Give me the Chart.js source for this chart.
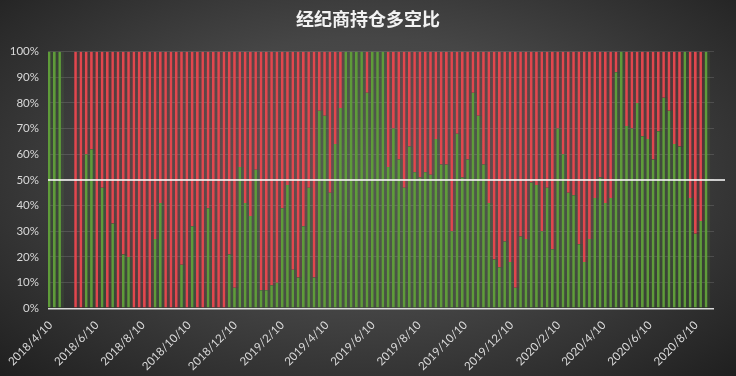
<!DOCTYPE html>
<html>
<head>
<meta charset="utf-8">
<script src="https://cdn.jsdelivr.net/npm/chart.js"></script>
<style>
  html, body { margin: 0; padding: 0; }
  body {
    width: 736px; height: 376px; overflow: hidden;
    background: radial-gradient(ellipse at 50% 45%, #545454 0%, #464646 45%, #2a2a2a 85%, #1f1f1f 100%);
  }
  #wrap { width: 736px; height: 376px; position: relative; }
</style>
</head>
<body>
<div id="wrap"><canvas id="c" width="736" height="376"></canvas></div>
<script>
// ---- data ----
const firstWeek = "2018/4/10";   // 每周数据起始日期
// 多头占比 (%)，null = 无数据
const longRatio = [
  100, 100, 100, null, null, 0, 0, 60, 62, 0,
  47, 0, 33, 0, 21, 20, 0, 0, 0, 0,
  27, 41, 0, 0, 0, 17, 0, 32, 0, 0,
  39, 0, 0, 0, 21, 8, 55, 41, 36, 54,
  7, 7, 9, 10, 39, 48, 15, 12, 32, 47,
  12, 77, 75, 45, 64, 78, 100, 100, 100, 100,
  84, 100, 100, 100, 55, 70, 58, 47, 63, 53,
  51, 53, 52, 66, 56, 56, 30, 68, 51, 58,
  84, 75, 56, 41, 19, 16, 26, 18, 8, 28,
  27, 49, 48, 30, 47, 23, 70, 60, 45, 44,
  25, 18, 27, 43, 51, 41, 43, 92, 100, 71,
  70, 80, 67, 66, 58, 69, 82, 77, 64, 63,
  100, 43, 29, 34, 100
];
// 空头占比 = 100 - 多头
const shortRatio = longRatio.map(v => v == null ? null : 100 - v);

const tickLabels = [
  "2018/4/10", "2018/6/10", "2018/8/10", "2018/10/10", "2018/12/10",
  "2019/2/10", "2019/4/10", "2019/6/10", "2019/8/10", "2019/10/10", "2019/12/10",
  "2020/2/10", "2020/4/10", "2020/6/10", "2020/8/10"
];
const yTicks = [0, 10, 20, 30, 40, 50, 60, 70, 80, 90, 100];
const midLine = 50;

// ---- helpers ----
function dayNum(s) {
  const [y, m, d] = s.split("/").map(Number);
  return Date.UTC(y, m - 1, d) / 86400000;
}
const d0 = dayNum(firstWeek);
const weekDays = longRatio.map((_, i) => d0 + 7 * i);
const tickDays = tickLabels.map(dayNum);

const green = "#5f9c3a", greenDim = "rgba(95,156,58,0.13)";
const red = "#e2474e", redDim = "rgba(226,71,78,0.13)";
const txt = "#d9d9d9";

// 50% 参考线 (略超出绘图区右边)
const midLinePlugin = {
  id: "midLine",
  afterDatasetsDraw(chart) {
    const { ctx, chartArea } = chart;
    const y = chart.scales.y.getPixelForValue(midLine);
    ctx.save();
    ctx.strokeStyle = "#ffffff";
    ctx.lineWidth = 1.5;
    ctx.beginPath();
    ctx.moveTo(chartArea.left, y);
    ctx.lineTo(chartArea.right + 11, y);
    ctx.stroke();
    ctx.restore();
  }
};

new Chart(document.getElementById("c"), {
  type: "bar",
  data: {
    datasets: [
      {
        label: "多",
        data: longRatio.map((v, i) => ({ x: weekDays[i], y: v })),
        backgroundColor: greenDim,
        borderColor: green,
        borderWidth: { left: 2, right: 0, top: 0, bottom: 0 },
        borderSkipped: false,
        categoryPercentage: 1,
        barPercentage: 1,
      },
      {
        label: "空",
        data: shortRatio.map((v, i) => ({ x: weekDays[i], y: v })),
        backgroundColor: redDim,
        borderColor: red,
        borderWidth: { left: 2, right: 0, top: 0, bottom: 0 },
        borderSkipped: false,
        categoryPercentage: 1,
        barPercentage: 1,
      },
    ],
  },
  options: {
    responsive: false,
    animation: false,
    layout: { padding: 0 },
    plugins: {
      legend: { display: false },
      tooltip: { enabled: false },
      title: {
        display: true,
        text: "经纪商持仓多空比",
        color: "#f2f2f2",
        font: { family: "'Noto Sans CJK SC'", size: 18, weight: "bold" },
        padding: { top: 8, bottom: 22 },
      },
    },
    scales: {
      x: {
        type: "linear",
        stacked: true,
        offset: false,
        min: d0 - 3.5,
        max: d0 + 876.5,
        grid: { display: false, offset: false },
        border: { display: false },
        afterBuildTicks: (s) => { s.ticks = tickDays.map(v => ({ value: v })); },
        afterFit: (s) => { s.height = 67.7; s.paddingLeft = 0; s.paddingRight = 22; },
        ticks: {
          autoSkip: false,
          minRotation: 45,
          maxRotation: 45,
          padding: 2,
          color: txt,
          font: { family: "Lato", size: 11.5 },
          callback: (v) => tickLabels[tickDays.indexOf(v)] || "",
        },
      },
      y: {
        stacked: true,
        min: 0,
        max: 100,
        afterBuildTicks: (s) => { s.ticks = yTicks.map(v => ({ value: v })); },
        afterFit: (s) => { s.width = 48; },
        grid: {
          drawTicks: false,
          color: (c) => c.tick && c.tick.value === 0 ? "#d9d9d9" : "rgba(255,255,255,0.13)",
          lineWidth: (c) => c.tick && c.tick.value === 0 ? 1.5 : 1,
        },
        border: { display: false },
        ticks: {
          padding: 9,
          color: txt,
          font: { family: "Lato", size: 11.5 },
          callback: (v) => v + "%",
        },
      },
    },
  },
  plugins: [midLinePlugin],
});
</script>
</body>
</html>
